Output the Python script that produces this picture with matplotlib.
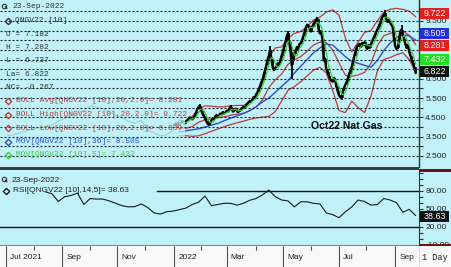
import numpy as np
import pandas as pd
import matplotlib
matplotlib.use("Agg")
import matplotlib.pyplot as plt
from matplotlib.patches import Rectangle
from matplotlib import font_manager, transforms

# ---------------- data ----------------
close_2022 = [
    4.12, 4.18, 4.10, 4.22, 4.15,
    4.20, 4.28, 4.22, 4.18, 4.30,
    4.35, 4.42, 4.50, 4.45, 4.40,
    4.48, 4.60, 4.75, 4.95, 5.05,
    5.10, 4.85, 4.70, 4.55, 4.45,
    4.30, 4.18, 4.12, 4.20, 4.35,
    4.45, 4.40, 4.55, 4.62, 4.55,
    4.60, 4.70, 4.65, 4.78, 4.70,
    4.75, 4.85, 4.80, 4.95, 5.05,
    4.90, 4.80, 4.88, 4.95, 4.82,
    4.78, 4.85, 4.92, 4.98, 5.05,
    5.00, 5.10, 5.20, 5.28, 5.35,
    5.30, 5.42, 5.55, 5.50, 5.68,
    5.80, 5.95, 6.10, 6.30, 6.45,
    6.70, 6.95, 7.20, 7.50, 7.70,
    8.00, 7.55, 7.10, 6.95, 7.05,
    7.15, 7.30, 7.20, 7.45, 7.70,
    7.90, 8.15, 8.40, 8.70, 8.85,
    8.40, 7.90, 7.20, 7.45, 7.80,
    7.95, 8.15, 8.05, 8.30, 8.35,
    8.50, 8.70, 8.95, 9.15, 9.30,
    9.25, 9.10, 8.95, 9.20, 9.35,
    9.45, 9.55, 9.60, 9.05, 8.85,
    8.95, 8.55, 7.45, 7.55, 7.00,
    6.85, 6.65, 6.50, 6.40, 6.35,
    6.55, 6.40, 6.10, 5.85, 5.65,
    5.55, 5.50, 5.85, 6.05, 6.20,
    6.35, 6.55, 6.75, 6.95, 7.15,
    7.40, 7.70, 7.95, 8.15, 8.25,
    8.30, 8.15, 8.35, 8.25, 8.40,
    8.20, 8.05, 8.25, 8.10, 8.30,
    8.45, 8.60, 8.75, 8.90, 9.05,
    9.20, 9.35, 9.55, 9.70, 9.80,
    9.90, 9.60, 9.45, 9.55, 9.40,
    9.30, 9.20, 8.60, 8.20, 8.05,
    8.10, 8.50, 8.95, 9.05, 8.70,
    8.55, 8.30, 8.10, 8.25, 7.90,
    7.70, 7.45, 7.30, 7.10, 6.82,
]
daily_start, daily_end = "2022-01-03", "2022-09-23"

early_weekly_close = [3.55, 3.60, 3.70, 3.80, 3.90, 3.95, 4.05, 4.10, 4.30,
                      4.45, 4.60, 4.75, 4.85, 5.10, 5.00, 4.95, 4.80, 4.60,
                      4.50, 4.30, 4.20, 4.35, 3.85, 3.70, 3.55, 3.60, 3.85]
early_start, early_end = "2021-07-02", "2021-12-31"

wick_dates = ["2022-01-31", "2022-03-04", "2022-04-18", "2022-05-06", "2022-05-11",
              "2022-06-08", "2022-07-05", "2022-08-22", "2022-09-08"]
wick_values = [5.18, 5.12, 8.20, 9.00, 6.50, 9.68, 5.40, 10.05, 9.30]

ind_start, ind_end = "2022-01-07", "2022-09-23"
boll_high = [4.35, 4.30, 4.55, 4.95, 5.10, 5.08, 5.05, 5.05, 5.10, 5.12, 5.12, 5.30,
             5.60, 6.30, 7.60, 8.10, 8.15, 8.60, 8.85, 8.95, 9.20, 9.55, 9.70, 9.95,
             10.07, 9.80, 8.60, 7.90, 8.40, 8.90, 9.00, 9.50, 9.95, 10.10, 10.15,
             10.10, 10.00, 9.722]
boll_avg = [3.95, 3.93, 4.03, 4.25, 4.38, 4.43, 4.48, 4.53, 4.61, 4.67, 4.71, 4.85,
            5.04, 5.41, 6.05, 6.45, 6.75, 7.25, 7.48, 7.65, 7.93, 8.25, 8.40, 8.38,
            7.99, 7.33, 6.68, 6.63, 6.70, 6.83, 7.30, 8.20, 8.73, 8.85, 8.95, 8.98,
            8.75, 8.281]
boll_low = [3.55, 3.55, 3.52, 3.55, 3.65, 3.78, 3.90, 4.02, 4.12, 4.22, 4.30, 4.40,
            4.47, 4.52, 4.55, 4.80, 5.35, 5.90, 6.10, 6.35, 6.65, 6.95, 7.10, 6.80,
            5.90, 4.85, 4.75, 5.35, 5.00, 4.75, 5.60, 6.90, 7.50, 7.60, 7.75, 7.85,
            7.50, 6.839]
mov36 = [3.75, 3.81, 3.86, 3.91, 4.00, 4.10, 4.19, 4.33, 4.46, 4.58, 4.70, 4.85,
         5.05, 5.30, 5.50, 5.80, 6.10, 6.40, 6.80, 7.15, 7.50, 7.85, 8.10, 8.30,
         8.25, 7.95, 7.65, 7.40, 7.30, 7.20, 7.10, 7.45, 7.95, 8.35, 8.65, 8.78,
         8.72, 8.505]
mov5_last = 7.432

rsi_start, rsi_end = "2021-08-13", "2022-09-23"
rsi_weekly = [78, 75, 62, 70, 72, 76, 57, 67, 66, 66, 63, 59, 55, 53, 53.5, 58, 52,
              43, 41, 45, 46, 48.5, 51, 57, 61, 71, 55, 57, 59, 59, 56, 59, 64, 67,
              73, 81, 70, 64.5, 63, 53, 61.5, 61.5, 59, 58, 43, 40, 35, 45, 53, 64.5,
              62, 56, 57, 67, 64.5, 60, 44, 49, 38.63]

quote_date = "23-Sep-2022"
symbol = "QNGV22 [10]"
open_, high_, low_, last_, net_change = 7.182, 7.282, 6.737, 6.822, -0.267
chart_title = "Oct22 Nat Gas"

month_labels = ["Jul 2021", "Sep", "Nov", "2022", "Mar", "May", "Jul", "Sep"]
month_label_dates = ["2021-07-01", "2021-09-01", "2021-11-01", "2022-01-03",
                     "2022-03-01", "2022-05-02", "2022-07-01", "2022-09-01"]
minor_month_dates = ["2021-08-02", "2021-10-01", "2021-12-01", "2022-02-01",
                     "2022-04-01", "2022-06-01", "2022-08-01"]
price_ticks = [2.5, 3.0, 3.5, 4.0, 4.5, 5.0, 5.5, 6.0, 6.5, 7.0, 7.5, 8.0, 8.5,
               9.0, 9.5, 10.0]
price_tick_labels = ["2.500", "", "3.500", "", "4.500", "", "5.500", "", "6.500", "",
                     "", "", "", "", "9.500", ""]
rsi_ticks = [-10, 20, 50, 80]
rsi_levels = [80, 20]
period_label = "1 Day"

# ---------------- styling ----------------
W, H = 451, 267
BG = "#c0f1f8"
RED = "#b83c3c"
BLUE = "#2a4fd6"
GREEN = "#2ed02e"
TXT = "#303030"
names = {f.name for f in font_manager.fontManager.ttflist}
NARROW = "Liberation Sans Narrow" if "Liberation Sans Narrow" in names else "Liberation Sans"
NSIZE = 7 if NARROW == "Liberation Sans Narrow" else 6
MONO = "Liberation Mono"

ORIGIN = np.datetime64("2021-07-01")
PX0, PXS = 6.0, 1.276   # pixel of origin, pixels per business day


def bd(dates):
    d = pd.DatetimeIndex(pd.to_datetime(dates)).values.astype("datetime64[D]")
    return np.busday_count(ORIGIN, d)


def rect(x0, y0, x1, y1):
    return [x0 / W, 1 - y1 / H, (x1 - x0) / W, (y1 - y0) / H]


x_daily = bd(pd.bdate_range(daily_start, daily_end))
x_early = bd(pd.date_range(early_start, early_end, freq="W-FRI"))
x_ind = bd(pd.date_range(ind_start, ind_end, freq="W-FRI"))
x_rsi = bd(pd.date_range(rsi_start, rsi_end, freq="W-FRI"))
close = pd.Series(close_2022, index=x_daily)
mov5 = close.rolling(5).mean()

fig = plt.figure(figsize=(W / 100, H / 100), dpi=100)
fig.patch.set_facecolor(BG)

ax_p = fig.add_axes(rect(0, 0, 419, 167))
ax_r = fig.add_axes(rect(0, 171, 419, 245), sharex=ax_p)
ax_x = fig.add_axes(rect(0, 246, 419, 267), sharex=ax_p)

xlim = (-PX0 / PXS, (419 - PX0) / PXS)
p_ylim = (2.5 - 11 / 19.3, 2.5 + 156 / 19.3)
r_ylim = (80 - (245 - 190.7) / 0.6, 80 + (190.7 - 171) / 0.6)

# ---- price panel ----
ax_p.set_facecolor(BG)
ax_p.set_xlim(*xlim)
ax_p.set_ylim(*p_ylim)
ax_p.plot(x_early, early_weekly_close, color="#4a7a6a", lw=0.8, zorder=2)
ax_p.plot(x_ind, boll_high, color=RED, lw=0.9, zorder=2)
ax_p.plot(x_ind, boll_avg, color=RED, lw=0.9, zorder=2)
ax_p.plot(x_ind, boll_low, color=RED, lw=0.9, zorder=2)
ax_p.plot(x_ind, mov36, color=BLUE, lw=1.0, zorder=2)
ax_p.plot(close.index, close.values, color="black", lw=1.7, zorder=3)
prev = close.shift(1).bfill()
ax_p.vlines(close.index, np.minimum(prev.values, close.values),
            np.maximum(prev.values, close.values), color="black", lw=1.1, zorder=3)
wx = bd(wick_dates)
ax_p.vlines(wx, close.reindex(wx).values, wick_values, color="black", lw=1.3, zorder=3)
ax_p.plot(mov5.index, mov5.values, color=GREEN, lw=0.9, zorder=3.5)
ax_p.add_patch(Rectangle((0, 0), 185 / 419, 1, transform=ax_p.transAxes,
                         facecolor=BG, edgecolor="none", alpha=0.72, zorder=4))
for v in price_ticks:
    ax_p.axhline(v, color="#1c1c1c", lw=0.8, ls=(0, (1.8, 1.8)), zorder=5)
ax_p.yaxis.tick_right()
ax_p.set_yticks(price_ticks)
ax_p.set_yticklabels(price_tick_labels, fontfamily=NARROW, fontsize=NSIZE, color="#202020")
ax_p.tick_params(axis="y", direction="out", length=3, width=0.8, color="#303030", pad=1.5)
ax_p.set_xticks([])
for s in ["left", "top", "bottom"]:
    ax_p.spines[s].set_visible(False)
ax_p.spines["right"].set_color("#303030")
ax_p.spines["right"].set_linewidth(1)

# ---- RSI panel ----
ax_r.set_facecolor(BG)
ax_r.set_ylim(*r_ylim)
ax_r.plot(x_rsi, rsi_weekly, color="#1a1a1a", lw=0.8, zorder=3)
ax_r.axhline(rsi_levels[0], xmin=157 / 419, color="#101010", lw=1.0, zorder=2)
ax_r.axhline(rsi_levels[1], color="#101010", lw=1.0, zorder=2)
ax_r.yaxis.tick_right()
ax_r.set_yticks(rsi_ticks)
ax_r.set_yticklabels([f"{v:.2f}" for v in rsi_ticks], fontfamily=NARROW,
                     fontsize=NSIZE, color="#202020")
ax_r.set_yticks(np.arange(-10, 111, 10), minor=True)
ax_r.tick_params(axis="y", which="both", direction="out", length=3, width=0.8,
                 color="#303030", pad=1.5)
ax_r.tick_params(axis="x", which="both", bottom=False, labelbottom=False)
for s in ["left", "top", "bottom"]:
    ax_r.spines[s].set_visible(False)
ax_r.spines["right"].set_color("#303030")

# ---- date strip ----
ax_x.set_facecolor("#f8f8f8")
ax_x.set_ylim(0, 1)
for s in ax_x.spines.values():
    s.set_visible(False)
ax_x.tick_params(axis="both", which="both", left=False, bottom=False,
                 labelleft=False, labelbottom=False)
xl = bd(month_label_dates)
ax_x.vlines(xl, 0, 1, color="#505050", lw=0.8)
ax_x.vlines(bd(minor_month_dates), 0.82, 1, color="#505050", lw=0.8)
off = transforms.offset_copy(ax_x.transData, fig=fig, x=4, y=0, units="dots")
for xv, lab in zip(xl, month_labels):
    ax_x.text(xv, 0.45, lab, transform=off, ha="left", va="center",
              fontfamily=NARROW, fontsize=NSIZE, color="#202020")

# ---- value boxes ----
ax_pl = fig.add_axes(rect(419, 0, 451, 167))
ax_pl.set_xlim(0, 32)
ax_pl.set_ylim(*p_ylim)
ax_pl.axis("off")
bh = 11 / 19.3
boxes = [(boll_high[-1], 0.17, "#e4201c"), (mov36[-1], 0.36, "#1f2fe0"),
         (boll_avg[-1], -0.03, "#e4201c"), (mov5_last, 0.06, "#22e022"),
         (last_, 0.04, "#101010")]
for val, dy, col in boxes:
    c = val + dy
    ax_pl.add_patch(Rectangle((1.2, c - bh / 2), 29, bh, facecolor=col, edgecolor="none"))
    ax_pl.text(15.5, c, f"{val:.3f}", color="white", ha="center", va="center",
               fontfamily=NARROW, fontsize=NSIZE + 0.4)

ax_rl = fig.add_axes(rect(419, 171, 451, 245))
ax_rl.set_xlim(0, 32)
ax_rl.set_ylim(*r_ylim)
ax_rl.axis("off")
rbh = 10.5 / 0.6
rc = rsi_weekly[-1] - 1.5
ax_rl.add_patch(Rectangle((1.2, rc - rbh / 2), 29, rbh,
                          facecolor="#101010", edgecolor="none"))
ax_rl.text(15.5, rc, f"{rsi_weekly[-1]:.2f}", color="white", ha="center",
           va="center", fontfamily=NARROW, fontsize=NSIZE + 0.4)

# ---- overlay (pixel coordinates) ----
ax_o = fig.add_axes([0, 0, 1, 1])
ax_o.set_xlim(0, W)
ax_o.set_ylim(H, 0)
ax_o.axis("off")
ax_o.patch.set_alpha(0)

ax_o.add_patch(Rectangle((0, 167), 419, 3, facecolor="#3c3c3c", edgecolor="none"))
ax_o.add_patch(Rectangle((419, 168.5), 32, 3, facecolor="#6e1212", edgecolor="none"))
ax_o.add_patch(Rectangle((0, 245), 419, 1, facecolor="#808080", edgecolor="none"))
ax_o.add_patch(Rectangle((419, 243.5), 32, 2.5, facecolor="#6e1212", edgecolor="none"))
ax_o.add_patch(Rectangle((419.5, 246), 31.5, 21, facecolor="#f8f8f8", edgecolor="none"))
ax_o.text(435, 257, period_label, ha="center", va="center", fontfamily=MONO,
          fontsize=6.2, color="#202020")


def mono(x, y, s, color=TXT):
    ax_o.text(x, y, s, ha="left", va="center", fontfamily=MONO, fontsize=5.7, color=color)


def diamond(x, y, color):
    ax_o.plot([x], [y], marker="D", ms=3.2, mfc="none", mec=color, mew=1.0)


def magnifier(x, y):
    ax_o.plot([x], [y], marker="o", ms=3.2, mfc="none", mec="#303030", mew=0.8)
    ax_o.plot([x + 1.3, x + 2.8], [y + 1.3, y + 2.8], color="#303030", lw=0.9)


magnifier(4, 5.5)
mono(12, 6.7, quote_date)
diamond(8, 20.7, "#303030")
mono(15, 20.7, symbol)
mono(6, 34, f"O = {open_:.3f}")
mono(6, 47.5, f"H = {high_:.3f}")
mono(6, 61, f"L = {low_:.3f}")
mono(6, 74.3, f"La= {last_:.3f}")
mono(6, 87.8, f"NC= {net_change:.3f}")
legend_rows = [
    ("BOLL Avg[" + symbol + ",20,2.0]= " + f"{boll_avg[-1]:.3f}", RED),
    ("BOLL High[" + symbol + ",20,2.0]= " + f"{boll_high[-1]:.3f}", RED),
    ("BOLL Low[" + symbol + ",20,2.0]= " + f"{boll_low[-1]:.3f}", RED),
    ("MOV[" + symbol + ",36]= " + f"{mov36[-1]:.3f}", BLUE),
    ("MOV[" + symbol + ",5]= " + f"{mov5_last:.3f}", GREEN),
]
for i, (s, col) in enumerate(legend_rows):
    y = 101 + 13.5 * i
    diamond(8, y, col)
    mono(16, y, s, color=col)

ax_o.text(347, 126, chart_title, ha="center", va="center", fontfamily="Liberation Sans",
          fontweight="bold", fontsize=7.6, color="#101010")

magnifier(4, 179)
ax_o.text(12, 180, quote_date, ha="left", va="center", fontfamily=NARROW,
          fontsize=NSIZE, color="#202020")
diamond(6, 191, "#202020")
ax_o.text(13, 191, "RSI[" + symbol + ",14,5]= " + f"{rsi_weekly[-1]:.2f}", ha="left",
          va="center", fontfamily=NARROW, fontsize=NSIZE, color="#202020")

fig.savefig("out.png", dpi=100, facecolor=BG)
